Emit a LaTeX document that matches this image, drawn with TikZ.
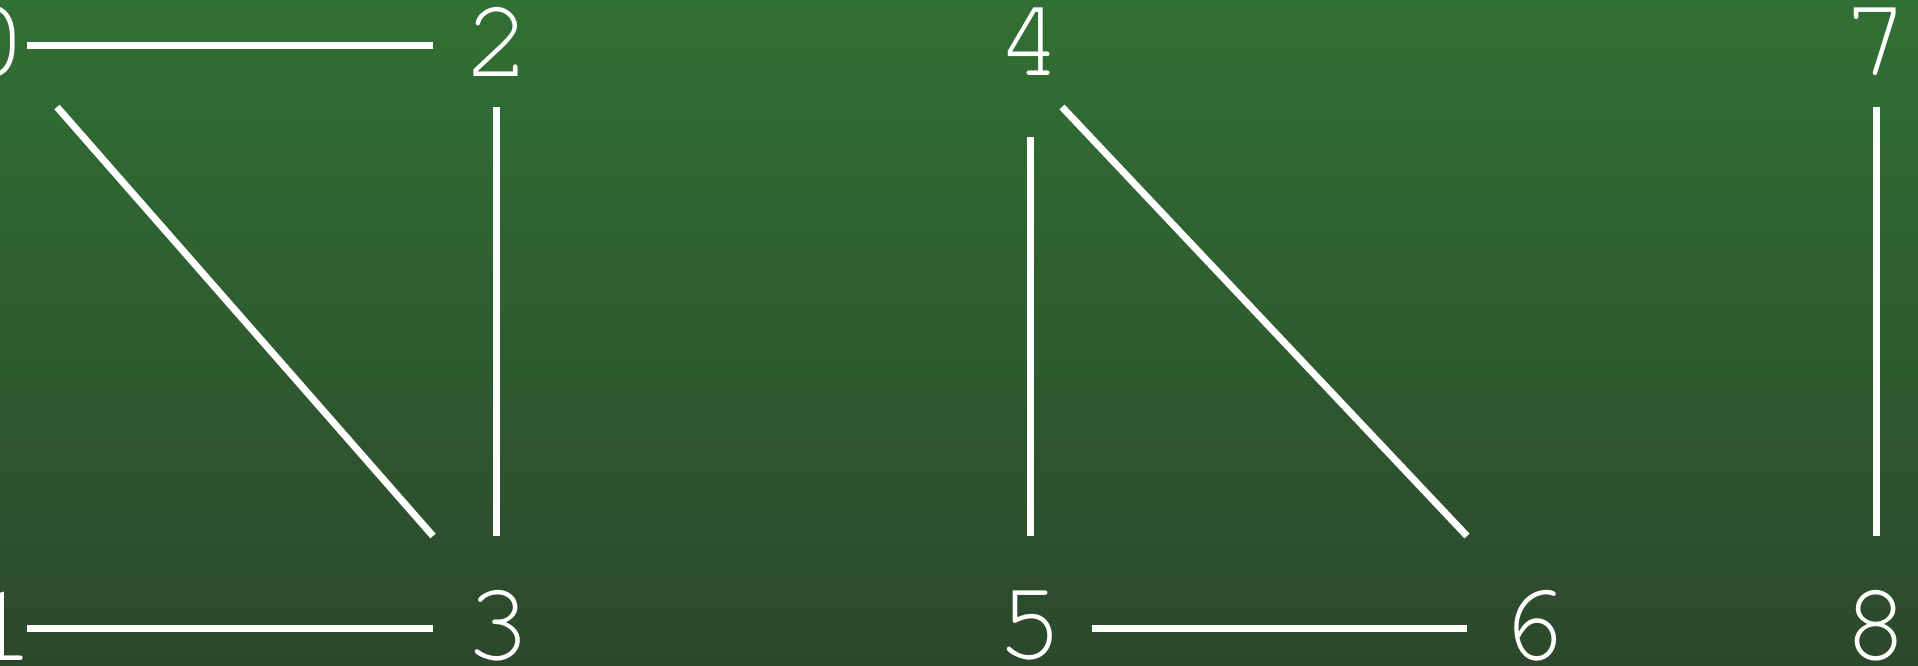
\documentclass[tikz,border=0pt]{standalone}
\usepackage{fontspec}
\usetikzlibrary{calc}
\newfontfamily\labfont{texgyrecursor-regular}[Extension=.otf]
\definecolor{bgtop}{RGB}{49,112,52}
\definecolor{bgbot}{RGB}{44,72,44}
\tikzset{
  lab/.style={inner sep=0pt, outer sep=0pt, text=white, font=\labfont\fontsize{112}{112}\selectfont},
  edge/.style={draw=white, line width=7pt, line cap=butt}
}
\begin{document}
\begin{tikzpicture}[x=1pt,y=-1pt]
\useasboundingbox (0,0) rectangle (1918,665);
\shade[top color=bgtop, bottom color=bgbot] (0,0) rectangle (1918,665);
\node[lab] (n0) at (-6,42) {0};
\node[lab] (n1) at (2,626) {1};
\node[lab] (n2) at (498,42) {2};
\node[lab] (n3) at (498,626) {3};
\node[lab] (n4) at (1030,42) {4};
\node[lab] (n5) at (1030,626) {5};
\node[lab] (n6) at (1533,626) {6};
\node[lab] (n7) at (1876,42) {7};
\node[lab] (n8) at (1876,626) {8};
\draw[edge] ($(n0)+(33,3)$) -- ($(n2)+(-65,3)$);
\draw[edge] ($(n0)+(63,65)$) -- ($(n3)+(-65,-90)$);
\draw[edge] ($(n2)+(-2,65)$) -- ($(n3)+(-2,-90)$);
\draw[edge] ($(n1)+(25,2)$) -- ($(n3)+(-65,2)$);
\draw[edge] ($(n4)+(0,95)$) -- ($(n5)+(0,-90)$);
\draw[edge] ($(n4)+(32,65)$) -- ($(n6)+(-66,-90)$);
\draw[edge] ($(n5)+(62,2)$) -- ($(n6)+(-66,2)$);
\draw[edge] ($(n7)+(0,65)$) -- ($(n8)+(0,-90)$);
\end{tikzpicture}
\end{document}
